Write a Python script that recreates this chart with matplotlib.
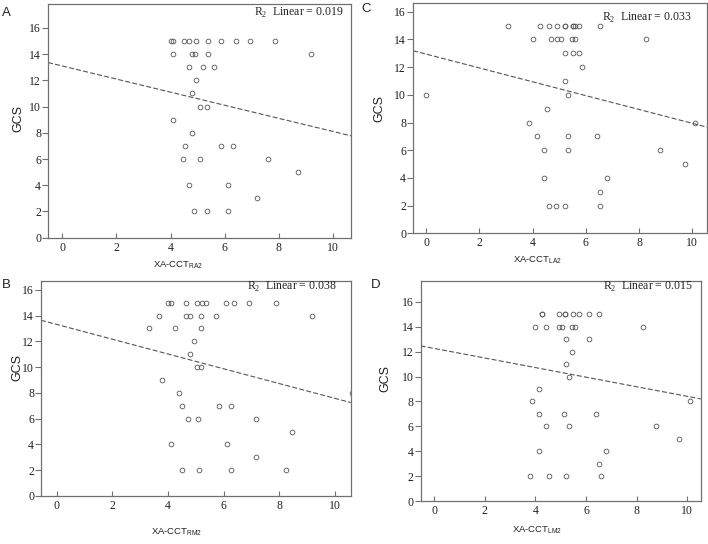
import numpy as np
import matplotlib
matplotlib.use("Agg")
import matplotlib.pyplot as plt

W, H = 708, 544

# panel A: XA-CCT RA2 vs GCS
a_x = [4.0, 4.1, 4.5, 4.67, 4.95, 5.4, 5.85, 6.4, 6.93, 7.87,
       4.1, 4.8, 4.92, 5.4, 9.2,
       4.67, 5.21, 5.6, 4.95, 4.8, 5.07, 5.34, 4.1, 4.8,
       4.53, 5.86, 6.29, 4.47, 5.07, 7.59, 8.72, 4.67, 6.13, 7.2,
       4.88, 5.34, 6.13]
a_y = [15] * 10 + [14] * 5 + [13, 13, 13, 12, 11, 10, 10, 9, 8,
       7, 7, 7, 6, 6, 6, 5, 4, 4, 3, 2, 2, 2]

# panel C: XA-CCT LA2 vs GCS
c_x = [3.08, 4.27, 4.62, 4.93, 5.2, 5.2, 5.5, 5.5, 5.6, 5.75, 6.52,
       4.02, 4.68, 4.93, 5.08, 5.47, 5.6, 8.26,
       5.21, 5.52, 5.75, 5.87, 5.21, 0.0, 5.33, 4.56, 3.88, 10.11,
       4.16, 5.33, 6.41, 4.42, 5.33, 8.79, 9.71, 4.42, 6.81, 6.53,
       4.62, 4.87, 5.21, 6.53]
c_y = [15] * 11 + [14] * 7 + [13, 13, 13, 12, 11, 10, 10, 9, 8, 8,
       7, 7, 7, 6, 6, 6, 5, 4, 4, 3, 2, 2, 2, 2]

# panel B: XA-CCT RM2 vs GCS
b_x = [3.99, 4.1, 4.65, 5.03, 5.21, 5.36, 6.09, 6.38, 6.91, 7.86,
       3.69, 4.65, 4.79, 5.17, 5.71, 9.17,
       3.32, 4.25, 5.19, 4.93, 4.79, 5.03, 5.19, 3.78, 4.4, 10.6,
       4.51, 5.84, 6.26, 4.73, 5.07, 7.17, 8.44, 4.12, 6.12, 7.17,
       4.51, 5.12, 6.25, 8.24]
b_y = [15] * 10 + [14] * 6 + [13, 13, 13, 12, 11, 10, 10, 9, 8, 8,
       7, 7, 7, 6, 6, 6, 5, 4, 4, 3, 2, 2, 2, 2]

# panel D: XA-CCT LM2 vs GCS
d_x = [4.28, 4.28, 4.94, 5.18, 5.18, 5.48, 5.73, 6.12, 6.52,
       4.0, 4.42, 4.94, 5.05, 5.44, 5.57, 8.25,
       5.2, 6.12, 5.46, 5.2, 5.33, 4.15, 3.87, 10.1,
       4.15, 5.14, 6.4, 4.42, 5.33, 8.78, 9.69, 4.15, 6.79, 6.52,
       3.8, 4.55, 5.2, 6.58]
d_y = [15] * 9 + [14] * 7 + [13, 13, 12, 11, 10, 9, 8, 8,
       7, 7, 7, 6, 6, 6, 5, 4, 4, 3, 2, 2, 2, 2]

# fitted lines (intercept, slope)
fits = {"A": (13.1, -0.50), "C": (12.94, -0.50), "B": (13.31, -0.574), "D": (12.26, -0.385)}
r2_text = {"A": "0.019", "C": "0.033", "B": "0.038", "D": "0.015"}
sub = {"A": "RA2", "C": "LA2", "B": "RM2", "D": "LM2"}

# pixel layout: left, right, top, bottom of each box, plus axis limits
boxes = {
    "A": (48, 351, 4.3, 237.7, (-0.52, 10.66), (0, 17.8)),
    "C": (413, 707, 2.7, 233.3, (-0.49, 10.55), (0, 16.65)),
    "B": (41, 350.7, 280.7, 496, (-0.56, 10.56), (0, 16.7)),
    "D": (420.7, 700.7, 280.7, 501, (-0.53, 10.53), (0, 17.7)),
}
ylab_pos = {"A": (-0.099, 0.509), "C": (-0.116, 0.541), "B": (-0.0775, 0.599), "D": (-0.125, 0.556)}
xlab_pos = {"A": (0.429, -0.117), "C": (0.422, -0.116), "B": (0.439, -0.167), "D": (0.414, -0.132)}
r2_pos = {"A": (343, 13.3), "C": (691, 18), "B": (337, 287), "D": (693, 287)}
letter_pos = {"A": (2, 12.7), "C": (361, 9.3), "B": (2, 285), "D": (371, 285)}

data = {"A": (a_x, a_y), "C": (c_x, c_y), "B": (b_x, b_y), "D": (d_x, d_y)}

GREY = "#555555"
SPINE = "#707070"
SERIF = "Liberation Serif"
SANS = "Liberation Sans"

fig = plt.figure(figsize=(W / 100, H / 100), dpi=100)

for key in ["A", "C", "B", "D"]:
    l, r, t, b, xl, yl = boxes[key]
    ax = fig.add_axes([l / W, 1 - b / H, (r - l) / W, (b - t) / H])
    xs, ys = data[key]
    ax.plot(xs, ys, linestyle="none", marker="o", markersize=3.4,
            markerfacecolor="none", markeredgecolor=GREY, markeredgewidth=0.6)
    b0, b1 = fits[key]
    lx = np.array(xl)
    ax.plot(lx, b0 + b1 * lx, color=GREY, lw=0.8, dashes=(4.5, 2))
    ax.set_xlim(xl)
    ax.set_ylim(yl)
    ax.set_xticks(np.arange(0, 11, 2))
    ax.set_yticks(np.arange(0, 17, 2))
    for s in ax.spines.values():
        s.set_color(SPINE)
        s.set_linewidth(0.9)
    ax.tick_params(axis="y", direction="out", length=4, width=0.8, color=SPINE, pad=1)
    ax.tick_params(axis="x", direction="in", length=3.5, width=0.8, color=SPINE, pad=3)
    for lab in ax.get_xticklabels() + ax.get_yticklabels():
        lab.set_fontfamily(SERIF)
        lab.set_fontsize(8.5)
        lab.set_color("#222222")
    ax.set_ylabel("GCS", fontfamily=SANS, fontsize=9, color="#222222", va="center", ha="center")
    ax.yaxis.set_label_coords(*ylab_pos[key])
    ax.set_xlabel("XA-CCT$_{\\mathregular{" + sub[key] + "}}$", fontfamily=SANS, fontsize=6.8,
                  color="#222222", va="center", ha="center")
    ax.xaxis.set_label_coords(*xlab_pos[key])

    rx, ry = r2_pos[key]
    fig.text(rx / W, 1 - ry / H, "R$_\\mathregular{2}$  Linear = " + r2_text[key],
             fontfamily=SERIF, fontsize=8.5, ha="right", va="center", color="#222222")
    px, py = letter_pos[key]
    fig.text(px / W, 1 - py / H, key, fontfamily=SANS, fontsize=9.5,
             ha="left", va="center", color="#222222")

fig.savefig("out.png", dpi=100)
